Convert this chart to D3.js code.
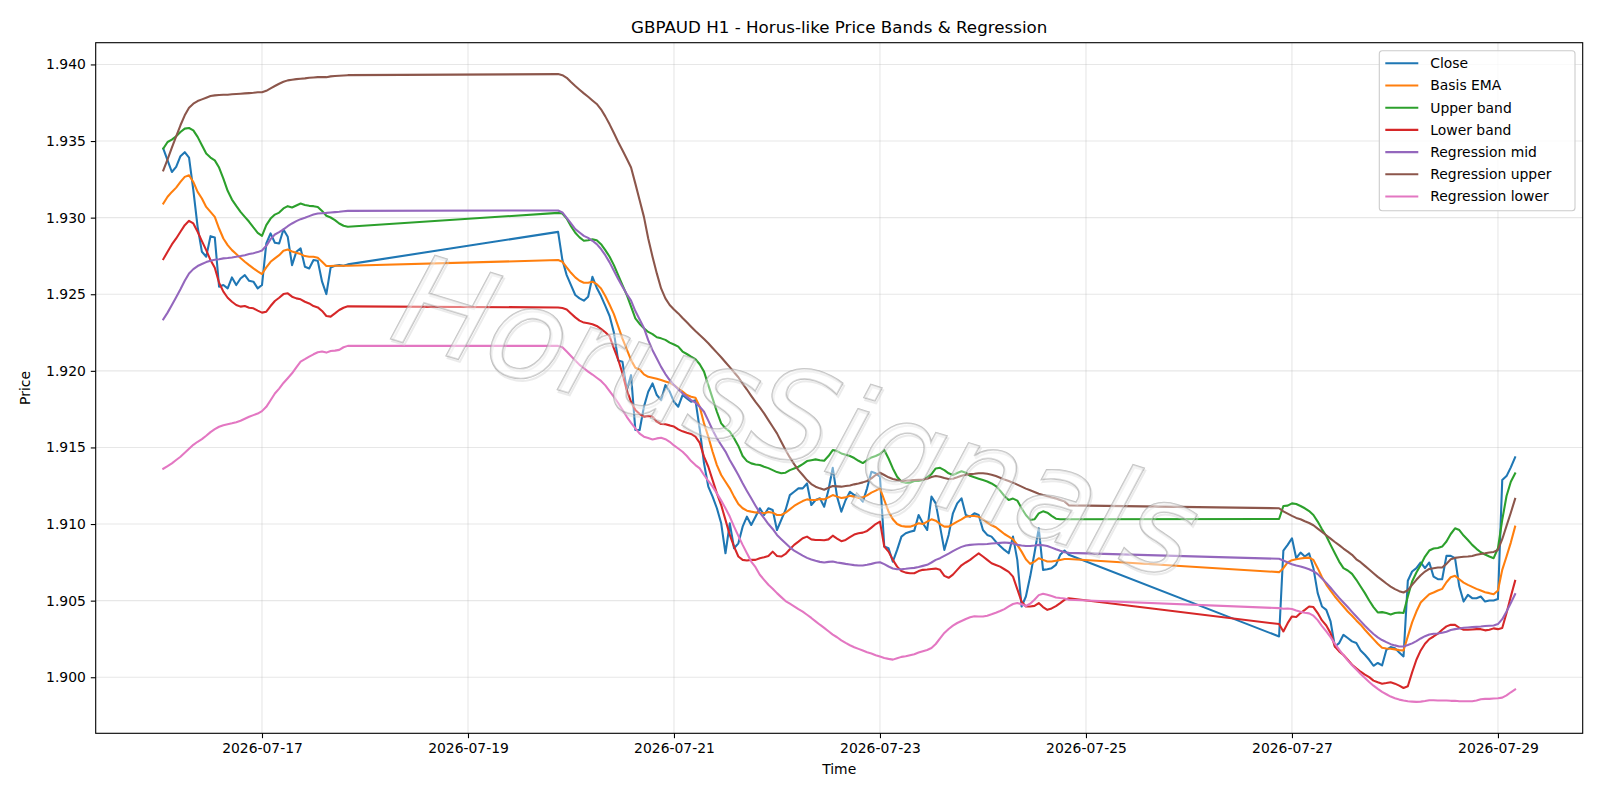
<!DOCTYPE html>
<html>
<head>
<meta charset="utf-8">
<script src="https://cdn.jsdelivr.net/npm/d3@7"></script>
<style>
  body { margin: 0; background: #fff; }
  svg { display: block; font-family: 'DejaVu Sans', sans-serif; }
</style>
</head>
<body>
<div id="chart"></div>
<script>
// trading sessions (hourly bars, UTC)
const sessionStarts = ['2026-07-16T01:00:00Z', '2026-07-19T21:00:00Z', '2026-07-26T21:00:00Z']
const sessionBars = [44, 120, 56]

const close = [
  1.93451, 1.93374, 1.93298, 1.93331, 1.93401, 1.93427, 1.93392, 1.93179, 1.92940, 1.92777,
  1.92745, 1.92879, 1.92871, 1.92549, 1.92560, 1.92538, 1.92610, 1.92560, 1.92603, 1.92625,
  1.92588, 1.92582, 1.92538, 1.92560, 1.92831, 1.92897, 1.92836, 1.92831, 1.92923, 1.92875,
  1.92690, 1.92777, 1.92799, 1.92679, 1.92668, 1.92723, 1.92718, 1.92582, 1.92501, 1.92675,
  1.92686, 1.92690, 1.92686, 1.92695,
  1.92907, 1.92723, 1.92625, 1.92560, 1.92495, 1.92473, 1.92458, 1.92484, 1.92614, 1.92543,
  1.92488, 1.92424, 1.92358, 1.92250, 1.92067, 1.92059, 1.91874, 1.91972, 1.91614, 1.91614,
  1.91766, 1.91864, 1.91918, 1.91842, 1.91809, 1.91907, 1.91864, 1.91798, 1.91766, 1.91842,
  1.91820, 1.91798, 1.91809, 1.91620, 1.91396, 1.91244, 1.91179, 1.91103, 1.91005, 1.90809,
  1.91005, 1.90842, 1.90874, 1.90983, 1.91048, 1.90994, 1.91048, 1.91103, 1.91059, 1.91103,
  1.91092, 1.90961, 1.91027, 1.91092, 1.91189, 1.91211, 1.91233, 1.91233, 1.91265, 1.91124,
  1.91157, 1.91168, 1.91113, 1.91222, 1.91367, 1.91179, 1.91081, 1.91157, 1.91211, 1.91189,
  1.91179, 1.91146, 1.91233, 1.91341, 1.91331, 1.91309, 1.90853, 1.90842, 1.90755, 1.90831,
  1.90918, 1.90940, 1.90950, 1.90957, 1.91059, 1.91005, 1.90961, 1.91179, 1.91135, 1.90983,
  1.90831, 1.90929, 1.91070, 1.91135, 1.91168, 1.91059, 1.91048, 1.91070, 1.91059, 1.90961,
  1.90929, 1.90918, 1.90885, 1.90857, 1.90831, 1.90809, 1.90918, 1.90766, 1.90462, 1.90527,
  1.90657, 1.90809, 1.90972, 1.90701, 1.90705, 1.90712, 1.90733, 1.90799, 1.90827, 1.90799,
  1.90266, 1.90827, 1.90864, 1.90907, 1.90777, 1.90814, 1.90788, 1.90809, 1.90712, 1.90549,
  1.90462, 1.90440, 1.90364, 1.90201, 1.90223, 1.90277, 1.90256, 1.90234, 1.90223, 1.90175,
  1.90147, 1.90114, 1.90075, 1.90093, 1.90077, 1.90179, 1.90197, 1.90190, 1.90162, 1.90136,
  1.90630, 1.90690, 1.90712, 1.90749, 1.90712, 1.90749, 1.90657, 1.90640, 1.90640, 1.90792,
  1.90792, 1.90777, 1.90592, 1.90494, 1.90538, 1.90516, 1.90516, 1.90527, 1.90494, 1.90501,
  1.90501, 1.90510, 1.91287, 1.91313, 1.91370, 1.91435
]

const basisEma = [
  1.93092, 1.93136, 1.93168, 1.93196, 1.93233, 1.93266, 1.93277, 1.93233, 1.93168, 1.93125,
  1.93070, 1.93038, 1.93005, 1.92929, 1.92864, 1.92821, 1.92788, 1.92762, 1.92736, 1.92712,
  1.92690, 1.92669, 1.92649, 1.92632, 1.92675, 1.92712, 1.92734, 1.92755, 1.92784, 1.92792,
  1.92779, 1.92771, 1.92762, 1.92749, 1.92745, 1.92745, 1.92738, 1.92712, 1.92684, 1.92684,
  1.92686, 1.92686, 1.92686, 1.92686,
  1.92723, 1.92712, 1.92675, 1.92640, 1.92610, 1.92588, 1.92575, 1.92575, 1.92582, 1.92566,
  1.92538, 1.92489, 1.92431, 1.92370, 1.92290, 1.92210, 1.92140, 1.92070, 1.92020, 1.92009,
  1.91977, 1.91961, 1.91955, 1.91948, 1.91940, 1.91931, 1.91922, 1.91907, 1.91885, 1.91864,
  1.91842, 1.91831, 1.91825, 1.91766, 1.91657, 1.91570, 1.91472, 1.91385, 1.91320, 1.91276,
  1.91233, 1.91179, 1.91131, 1.91103, 1.91087, 1.91081, 1.91076, 1.91074, 1.91070, 1.91079,
  1.91074, 1.91059, 1.91059, 1.91074, 1.91096, 1.91118, 1.91135, 1.91150, 1.91161, 1.91157,
  1.91157, 1.91163, 1.91161, 1.91174, 1.91189, 1.91179, 1.91170, 1.91174, 1.91185, 1.91179,
  1.91170, 1.91174, 1.91187, 1.91205, 1.91218, 1.91233, 1.91157, 1.91081, 1.91031, 1.91000,
  1.90987, 1.90983, 1.90983, 1.90992, 1.91005, 1.91000, 1.91016, 1.91031, 1.91022, 1.91000,
  1.90983, 1.90983, 1.91000, 1.91016, 1.91031, 1.91048, 1.91053, 1.91053, 1.91048, 1.91031,
  1.91009, 1.90992, 1.90979, 1.90957, 1.90935, 1.90918, 1.90900, 1.90864, 1.90820, 1.90770,
  1.90740, 1.90755, 1.90777, 1.90766, 1.90755, 1.90755, 1.90761, 1.90766, 1.90772, 1.90772,
  1.90686, 1.90712, 1.90749, 1.90764, 1.90770, 1.90775, 1.90779, 1.90781, 1.90766, 1.90712,
  1.90653, 1.90605, 1.90566, 1.90527, 1.90494, 1.90462, 1.90429, 1.90401, 1.90371, 1.90343,
  1.90310, 1.90279, 1.90249, 1.90219, 1.90192, 1.90188, 1.90186, 1.90182, 1.90177, 1.90175,
  1.90267, 1.90358, 1.90429, 1.90488, 1.90516, 1.90542, 1.90553, 1.90566, 1.90577, 1.90620,
  1.90653, 1.90662, 1.90640, 1.90618, 1.90603, 1.90590, 1.90577, 1.90566, 1.90555, 1.90549,
  1.90542, 1.90566, 1.90701, 1.90788, 1.90879, 1.90983
]

const upperBand = [
  1.93451, 1.93494, 1.93509, 1.93531, 1.93559, 1.93581, 1.93585, 1.93570, 1.93527, 1.93472,
  1.93418, 1.93392, 1.93374, 1.93327, 1.93255, 1.93175, 1.93118, 1.93077, 1.93038, 1.93005,
  1.92973, 1.92936, 1.92901, 1.92881, 1.92951, 1.92994, 1.93020, 1.93033, 1.93060, 1.93075,
  1.93066, 1.93079, 1.93092, 1.93083, 1.93077, 1.93075, 1.93070, 1.93044, 1.93012, 1.93001,
  1.92984, 1.92962, 1.92947, 1.92940,
  1.93031, 1.93027, 1.92994, 1.92944, 1.92901, 1.92871, 1.92849, 1.92853, 1.92858, 1.92853,
  1.92827, 1.92788, 1.92745, 1.92690, 1.92625, 1.92560, 1.92495, 1.92419, 1.92343, 1.92306,
  1.92278, 1.92254, 1.92240, 1.92219, 1.92212, 1.92202, 1.92184, 1.92172, 1.92158, 1.92126,
  1.92110, 1.92093, 1.92077, 1.92043, 1.91995, 1.91907, 1.91820, 1.91733, 1.91657, 1.91625,
  1.91603, 1.91560, 1.91510, 1.91444, 1.91411, 1.91396, 1.91389, 1.91385, 1.91374, 1.91365,
  1.91352, 1.91339, 1.91331, 1.91335, 1.91352, 1.91363, 1.91374, 1.91391, 1.91411, 1.91417,
  1.91422, 1.91417, 1.91413, 1.91444, 1.91483, 1.91476, 1.91461, 1.91452, 1.91444, 1.91431,
  1.91413, 1.91398, 1.91417, 1.91435, 1.91444, 1.91457, 1.91483, 1.91428, 1.91363, 1.91309,
  1.91276, 1.91270, 1.91270, 1.91281, 1.91281, 1.91287, 1.91305, 1.91326, 1.91363, 1.91367,
  1.91352, 1.91331, 1.91320, 1.91333, 1.91344, 1.91335, 1.91315, 1.91305, 1.91296, 1.91287,
  1.91278, 1.91265, 1.91248, 1.91218, 1.91183, 1.91157, 1.91166, 1.91153, 1.91103, 1.91059,
  1.91027, 1.91031, 1.91070, 1.91083, 1.91074, 1.91053, 1.91035, 1.91031, 1.91031, 1.91031,
  1.91033, 1.91118, 1.91120, 1.91135, 1.91131, 1.91118, 1.91103, 1.91085, 1.91059, 1.91016,
  1.90966, 1.90922, 1.90864, 1.90809, 1.90755, 1.90712, 1.90697, 1.90675, 1.90636, 1.90592,
  1.90549, 1.90501, 1.90458, 1.90423, 1.90425, 1.90419, 1.90410, 1.90419, 1.90423, 1.90419,
  1.90527, 1.90625, 1.90684, 1.90733, 1.90788, 1.90827, 1.90840, 1.90844, 1.90853, 1.90886,
  1.90935, 1.90972, 1.90961, 1.90925, 1.90896, 1.90864, 1.90838, 1.90816, 1.90801, 1.90788,
  1.90777, 1.90842, 1.91027, 1.91183, 1.91276, 1.91331
]

const lowerBand = [
  1.92729, 1.92777, 1.92825, 1.92864, 1.92908, 1.92951, 1.92979, 1.92962, 1.92908, 1.92847,
  1.92788, 1.92723, 1.92673, 1.92575, 1.92517, 1.92477, 1.92451, 1.92430, 1.92419, 1.92423,
  1.92412, 1.92408, 1.92393, 1.92380, 1.92386, 1.92423, 1.92456, 1.92477, 1.92501, 1.92506,
  1.92484, 1.92473, 1.92467, 1.92451, 1.92440, 1.92423, 1.92414, 1.92391, 1.92358, 1.92354,
  1.92375, 1.92397, 1.92412, 1.92421,
  1.92414, 1.92410, 1.92401, 1.92375, 1.92349, 1.92328, 1.92315, 1.92310, 1.92304, 1.92293,
  1.92274, 1.92252, 1.92225, 1.92146, 1.92074, 1.91983, 1.91874, 1.91798, 1.91744, 1.91718,
  1.91701, 1.91705, 1.91701, 1.91668, 1.91653, 1.91651, 1.91644, 1.91636, 1.91618, 1.91605,
  1.91596, 1.91588, 1.91570, 1.91530, 1.91440, 1.91374, 1.91287, 1.91200, 1.91124, 1.91027,
  1.90929, 1.90853, 1.90788, 1.90766, 1.90762, 1.90766, 1.90766, 1.90777, 1.90783, 1.90792,
  1.90820, 1.90792, 1.90788, 1.90805, 1.90835, 1.90864, 1.90885, 1.90907, 1.90918, 1.90900,
  1.90896, 1.90896, 1.90894, 1.90900, 1.90924, 1.90905, 1.90888, 1.90896, 1.90914, 1.90931,
  1.90940, 1.90944, 1.90955, 1.90977, 1.91000, 1.91016, 1.90853, 1.90820, 1.90766, 1.90722,
  1.90694, 1.90683, 1.90679, 1.90679, 1.90693, 1.90701, 1.90703, 1.90707, 1.90709, 1.90701,
  1.90662, 1.90649, 1.90670, 1.90701, 1.90731, 1.90749, 1.90766, 1.90788, 1.90809, 1.90788,
  1.90766, 1.90744, 1.90733, 1.90722, 1.90705, 1.90688, 1.90657, 1.90575, 1.90494, 1.90462,
  1.90462, 1.90466, 1.90484, 1.90458, 1.90440, 1.90449, 1.90464, 1.90484, 1.90505, 1.90516,
  1.90347, 1.90299, 1.90353, 1.90397, 1.90393, 1.90419, 1.90440, 1.90462, 1.90458, 1.90419,
  1.90371, 1.90338, 1.90288, 1.90201, 1.90169, 1.90145, 1.90114, 1.90082, 1.90058, 1.90036,
  1.90017, 1.90001, 1.89978, 1.89967, 1.89958, 1.89962, 1.89967, 1.89958, 1.89945, 1.89930,
  1.89941, 1.90032, 1.90114, 1.90175, 1.90219, 1.90249, 1.90266, 1.90284, 1.90310, 1.90332,
  1.90342, 1.90342, 1.90323, 1.90310, 1.90310, 1.90312, 1.90314, 1.90314, 1.90306, 1.90310,
  1.90319, 1.90314, 1.90321, 1.90419, 1.90527, 1.90629
]

const regMid = [
  1.92336, 1.92380, 1.92430, 1.92480, 1.92532, 1.92588, 1.92636, 1.92664, 1.92684, 1.92697,
  1.92710, 1.92719, 1.92725, 1.92729, 1.92734, 1.92736, 1.92740, 1.92745, 1.92749, 1.92755,
  1.92762, 1.92768, 1.92775, 1.92786, 1.92816, 1.92860, 1.92890, 1.92905, 1.92923, 1.92944,
  1.92962, 1.92977, 1.92990, 1.92999, 1.93010, 1.93020, 1.93027, 1.93029, 1.93031, 1.93034,
  1.93036, 1.93038, 1.93042, 1.93044,
  1.93047, 1.93034, 1.92999, 1.92962, 1.92925, 1.92903, 1.92881, 1.92868, 1.92849, 1.92827,
  1.92795, 1.92755, 1.92708, 1.92653, 1.92599, 1.92549, 1.92501, 1.92458, 1.92390, 1.92335,
  1.92280, 1.92200, 1.92135, 1.92081, 1.92026, 1.91979, 1.91940, 1.91907, 1.91879, 1.91853,
  1.91831, 1.91809, 1.91792, 1.91766, 1.91733, 1.91675, 1.91614, 1.91560, 1.91516, 1.91473,
  1.91418, 1.91370, 1.91320, 1.91266, 1.91216, 1.91168, 1.91120, 1.91074, 1.91038, 1.91000,
  1.90968, 1.90929, 1.90901, 1.90874, 1.90848, 1.90827, 1.90810, 1.90794, 1.90779, 1.90768,
  1.90760, 1.90753, 1.90749, 1.90753, 1.90755, 1.90749, 1.90745, 1.90740, 1.90736, 1.90732,
  1.90729, 1.90729, 1.90734, 1.90740, 1.90747, 1.90751, 1.90738, 1.90723, 1.90710, 1.90705,
  1.90705, 1.90708, 1.90712, 1.90714, 1.90720, 1.90727, 1.90734, 1.90749, 1.90766, 1.90777,
  1.90792, 1.90807, 1.90823, 1.90838, 1.90851, 1.90860, 1.90864, 1.90866, 1.90868, 1.90868,
  1.90870, 1.90873, 1.90875, 1.90877, 1.90879, 1.90877, 1.90873, 1.90864, 1.90860, 1.90857,
  1.90857, 1.90860, 1.90864, 1.90862, 1.90857, 1.90846, 1.90835, 1.90825, 1.90816, 1.90812,
  1.90773, 1.90762, 1.90749, 1.90738, 1.90729, 1.90723, 1.90714, 1.90705, 1.90692, 1.90673,
  1.90645, 1.90616, 1.90584, 1.90551, 1.90518, 1.90488, 1.90458, 1.90427, 1.90397, 1.90366,
  1.90336, 1.90308, 1.90282, 1.90260, 1.90243, 1.90229, 1.90216, 1.90208, 1.90201, 1.90201,
  1.90210, 1.90221, 1.90236, 1.90253, 1.90268, 1.90279, 1.90284, 1.90286, 1.90290, 1.90297,
  1.90308, 1.90314, 1.90318, 1.90323, 1.90325, 1.90327, 1.90329, 1.90331, 1.90334, 1.90336,
  1.90338, 1.90347, 1.90379, 1.90429, 1.90484, 1.90542
]

const regUpper = [
  1.93309, 1.93381, 1.93457, 1.93531, 1.93603, 1.93668, 1.93718, 1.93744, 1.93761, 1.93772,
  1.93783, 1.93794, 1.93798, 1.93800, 1.93802, 1.93802, 1.93805, 1.93807, 1.93809, 1.93811,
  1.93813, 1.93815, 1.93818, 1.93818, 1.93828, 1.93844, 1.93859, 1.93874, 1.93887, 1.93896,
  1.93900, 1.93904, 1.93907, 1.93909, 1.93913, 1.93915, 1.93917, 1.93917, 1.93917, 1.93922,
  1.93924, 1.93926, 1.93928, 1.93930,
  1.93937, 1.93930, 1.93913, 1.93885, 1.93859, 1.93835, 1.93811, 1.93789, 1.93765, 1.93742,
  1.93707, 1.93661, 1.93609, 1.93553, 1.93494, 1.93440, 1.93385, 1.93327, 1.93222, 1.93114,
  1.93005, 1.92864, 1.92745, 1.92636, 1.92538, 1.92473, 1.92430, 1.92401, 1.92375, 1.92345,
  1.92317, 1.92288, 1.92260, 1.92234, 1.92208, 1.92180, 1.92149, 1.92119, 1.92089, 1.92056,
  1.92024, 1.91991, 1.91958, 1.91917, 1.91878, 1.91837, 1.91797, 1.91761, 1.91722, 1.91678,
  1.91635, 1.91592, 1.91537, 1.91483, 1.91435, 1.91391, 1.91352, 1.91320, 1.91287, 1.91261,
  1.91244, 1.91233, 1.91224, 1.91237, 1.91248, 1.91246, 1.91244, 1.91248, 1.91252, 1.91259,
  1.91265, 1.91272, 1.91281, 1.91298, 1.91320, 1.91335, 1.91320, 1.91305, 1.91294, 1.91287,
  1.91281, 1.91283, 1.91285, 1.91287, 1.91289, 1.91291, 1.91296, 1.91307, 1.91313, 1.91309,
  1.91300, 1.91294, 1.91296, 1.91305, 1.91315, 1.91322, 1.91326, 1.91328, 1.91331, 1.91331,
  1.91328, 1.91322, 1.91313, 1.91302, 1.91291, 1.91281, 1.91270, 1.91257, 1.91244, 1.91231,
  1.91220, 1.91209, 1.91198, 1.91189, 1.91181, 1.91174, 1.91166, 1.91157, 1.91148, 1.91122,
  1.91103, 1.91083, 1.91068, 1.91053, 1.91040, 1.91031, 1.91018, 1.91007, 1.90992, 1.90970,
  1.90949, 1.90927, 1.90905, 1.90883, 1.90862, 1.90840, 1.90820, 1.90799, 1.90770, 1.90751,
  1.90727, 1.90703, 1.90679, 1.90655, 1.90634, 1.90612, 1.90592, 1.90575, 1.90562, 1.90553,
  1.90568, 1.90603, 1.90636, 1.90666, 1.90690, 1.90707, 1.90712, 1.90716, 1.90716, 1.90740,
  1.90770, 1.90779, 1.90783, 1.90786, 1.90788, 1.90792, 1.90799, 1.90805, 1.90809, 1.90814,
  1.90818, 1.90831, 1.90901, 1.90988, 1.91074, 1.91164
]

const regLower = [
  1.91361, 1.91378, 1.91396, 1.91418, 1.91439, 1.91465, 1.91491, 1.91517, 1.91537, 1.91554,
  1.91576, 1.91600, 1.91619, 1.91635, 1.91645, 1.91652, 1.91658, 1.91665, 1.91674, 1.91687,
  1.91700, 1.91711, 1.91721, 1.91737, 1.91765, 1.91808, 1.91852, 1.91884, 1.91921, 1.91952,
  1.91984, 1.92023, 1.92060, 1.92076, 1.92093, 1.92108, 1.92121, 1.92126, 1.92119, 1.92130,
  1.92132, 1.92137, 1.92154, 1.92163,
  1.92163, 1.92154, 1.92126, 1.92097, 1.92067, 1.92039, 1.92017, 1.91995, 1.91976, 1.91955,
  1.91934, 1.91905, 1.91868, 1.91830, 1.91790, 1.91745, 1.91700, 1.91660, 1.91625, 1.91590,
  1.91570, 1.91561, 1.91552, 1.91559, 1.91563, 1.91554, 1.91537, 1.91513, 1.91493, 1.91472,
  1.91444, 1.91411, 1.91385, 1.91363, 1.91320, 1.91281, 1.91244, 1.91200, 1.91153, 1.91103,
  1.91049, 1.90983, 1.90923, 1.90864, 1.90810, 1.90755, 1.90718, 1.90669, 1.90636, 1.90604,
  1.90578, 1.90549, 1.90523, 1.90497, 1.90480, 1.90463, 1.90445, 1.90428, 1.90408, 1.90387,
  1.90365, 1.90343, 1.90322, 1.90300, 1.90278, 1.90261, 1.90241, 1.90224, 1.90209, 1.90196,
  1.90185, 1.90174, 1.90163, 1.90155, 1.90144, 1.90135, 1.90126, 1.90120, 1.90115, 1.90124,
  1.90133, 1.90137, 1.90144, 1.90150, 1.90161, 1.90170, 1.90178, 1.90191, 1.90217, 1.90254,
  1.90289, 1.90315, 1.90337, 1.90354, 1.90367, 1.90380, 1.90391, 1.90398, 1.90396, 1.90396,
  1.90402, 1.90411, 1.90421, 1.90432, 1.90445, 1.90462, 1.90478, 1.90484, 1.90476, 1.90465,
  1.90480, 1.90506, 1.90536, 1.90545, 1.90538, 1.90530, 1.90521, 1.90517, 1.90514, 1.90506,
  1.90451, 1.90447, 1.90449, 1.90445, 1.90436, 1.90428, 1.90421, 1.90417, 1.90402, 1.90373,
  1.90334, 1.90299, 1.90262, 1.90219, 1.90180, 1.90145, 1.90110, 1.90078, 1.90050, 1.90021,
  1.89995, 1.89969, 1.89945, 1.89924, 1.89904, 1.89889, 1.89874, 1.89863, 1.89854, 1.89848,
  1.89843, 1.89841, 1.89839, 1.89841, 1.89845, 1.89850, 1.89850, 1.89848, 1.89848, 1.89848,
  1.89846, 1.89846, 1.89843, 1.89843, 1.89843, 1.89843, 1.89848, 1.89856, 1.89859, 1.89859,
  1.89861, 1.89863, 1.89867, 1.89882, 1.89902, 1.89920
]

const seriesNames = ['Close', 'Basis EMA', 'Upper band', 'Lower band', 'Regression mid', 'Regression upper', 'Regression lower']
const seriesValues = [close, basisEma, upperBand, lowerBand, regMid, regUpper, regLower]
const seriesColors = ['#1f77b4', '#ff7f0e', '#2ca02c', '#d62728', '#9467bd', '#8c564b', '#e377c2']
const yTicks = [1.900, 1.905, 1.910, 1.915, 1.920, 1.925, 1.930, 1.935, 1.940]

// hourly timestamps for every bar
const times = []
sessionStarts.forEach((s, i) => {
  const t0 = new Date(s).getTime()
  for (let k = 0; k < sessionBars[i]; k++) times.push(new Date(t0 + k * 3600e3))
})

const width = 1600
const height = 800
const margin = { top: 42.7, right: 17.3, bottom: 66.7, left: 95.7 }
const innerW = width - margin.left - margin.right
const innerH = height - margin.top - margin.bottom

// matplotlib-style 5% margins
const tExt = d3.extent(times)
const tPad = (tExt[1] - tExt[0]) * 0.05
const allVals = seriesValues.flat()
const vExt = d3.extent(allVals)
const vPad = (vExt[1] - vExt[0]) * 0.05

const x = d3.scaleUtc()
  .domain([new Date(+tExt[0] - tPad), new Date(+tExt[1] + tPad)])
  .range([0, innerW])
const y = d3.scaleLinear()
  .domain([vExt[0] - vPad, vExt[1] + vPad])
  .range([innerH, 0])

const svg = d3.select('#chart').append('svg')
  .attr('width', width)
  .attr('height', height)

svg.append('rect').attr('width', width).attr('height', height).attr('fill', '#fff')

const g = svg.append('g').attr('transform', `translate(${margin.left},${margin.top})`)

const xTicks = x.ticks(d3.utcDay.every(2))

// grid
g.append('g').selectAll('line').data(yTicks).join('line')
  .attr('x1', 0).attr('x2', innerW)
  .attr('y1', d => y(d)).attr('y2', d => y(d))
  .attr('stroke', '#b0b0b0').attr('stroke-opacity', 0.3).attr('stroke-width', 1.1)
g.append('g').selectAll('line').data(xTicks).join('line')
  .attr('y1', 0).attr('y2', innerH)
  .attr('x1', d => x(d)).attr('x2', d => x(d))
  .attr('stroke', '#b0b0b0').attr('stroke-opacity', 0.3).attr('stroke-width', 1.1)

// series lines
const line = d3.line()
  .x((d, i) => x(times[i]))
  .y(d => y(d))

const linesG = g.append('g')
seriesValues.forEach((vals, i) => {
  linesG.append('path')
    .datum(vals)
    .attr('d', line)
    .attr('fill', 'none')
    .attr('stroke', seriesColors[i])
    .attr('stroke-width', 2.08)
    .attr('stroke-linejoin', 'round')
    .attr('stroke-linecap', 'square')
})

// axes
const xAxis = d3.axisBottom(x).tickValues(xTicks).tickFormat(d3.utcFormat('%Y-%m-%d'))
  .tickSizeOuter(0).tickSize(4.9).tickPadding(4.9)
const yAxis = d3.axisLeft(y).tickValues(yTicks).tickFormat(d3.format('.3f'))
  .tickSizeOuter(0).tickSize(4.9).tickPadding(4.9)

const xg = g.append('g').attr('transform', `translate(0,${innerH})`).call(xAxis)
const yg = g.append('g').call(yAxis)
;[xg, yg].forEach(a => {
  a.select('.domain').remove()
  a.selectAll('line').attr('stroke', '#000').attr('stroke-width', 1.1)
  a.selectAll('text').attr('fill', '#000').style('font-size', '13.9px').style('font-family', 'DejaVu Sans')
})

// frame
g.append('rect')
  .attr('width', innerW).attr('height', innerH)
  .attr('fill', 'none').attr('stroke', '#000').attr('stroke-width', 1.1)

// labels
svg.append('text')
  .attr('x', margin.left + innerW / 2).attr('y', 33)
  .attr('text-anchor', 'middle')
  .style('font-size', '16.7px')
  .text('GBPAUD H1 - Horus-like Price Bands & Regression')
svg.append('text')
  .attr('x', margin.left + innerW / 2).attr('y', 774)
  .attr('text-anchor', 'middle')
  .style('font-size', '13.9px')
  .text('Time')
svg.append('text')
  .attr('transform', `translate(30,${margin.top + innerH / 2}) rotate(-90)`)
  .attr('text-anchor', 'middle')
  .style('font-size', '13.9px')
  .text('Price')

// legend
const lg = svg.append('g').attr('transform', 'translate(1379.3,50.7)')
lg.append('rect')
  .attr('width', 195.7).attr('height', 160)
  .attr('rx', 3).attr('ry', 3)
  .attr('fill', '#fff').attr('fill-opacity', 0.8)
  .attr('stroke', '#cccccc').attr('stroke-width', 1.1)
seriesNames.forEach((name, i) => {
  const yy = 12.6 + i * 22.2
  lg.append('line')
    .attr('x1', 6).attr('x2', 39)
    .attr('y1', yy).attr('y2', yy)
    .attr('stroke', seriesColors[i]).attr('stroke-width', 2.08)
  lg.append('text')
    .attr('x', 51).attr('y', yy + 5)
    .style('font-size', '13.9px')
    .text(name)
})

// watermark: light shadow, then outlined translucent text
const wmSize = 127
const wm = svg.append('g').attr('transform', 'translate(797,415) rotate(17)')
  .style('font-size', wmSize + 'px')
  .style('font-style', 'italic')
  .style('font-family', 'DejaVu Sans')
  .attr('text-anchor', 'middle')
wm.append('text')
  .attr('x', 2).attr('y', wmSize * 0.36 + 2)
  .attr('fill', 'none')
  .attr('stroke', '#ccc').attr('stroke-opacity', 0.4).attr('stroke-width', 2)
  .text('HorusSignals')
wm.append('text')
  .attr('y', wmSize * 0.36)
  .attr('fill', '#fff').attr('fill-opacity', 0.4)
  .attr('stroke', '#999').attr('stroke-opacity', 0.6).attr('stroke-width', 1.6)
  .attr('paint-order', 'stroke')
  .text('HorusSignals')
</script>
</body>
</html>
